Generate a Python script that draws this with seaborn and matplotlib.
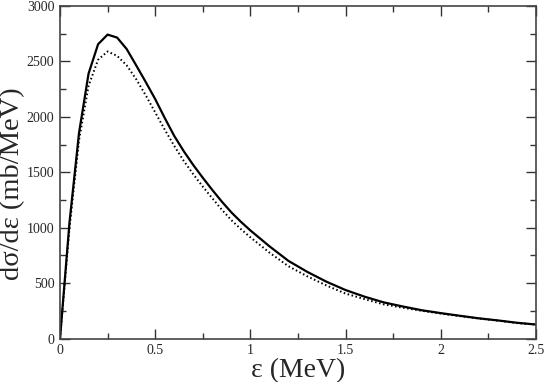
import numpy as np
import pandas as pd
import matplotlib
matplotlib.use("Agg")
import matplotlib.pyplot as plt
from matplotlib.ticker import MultipleLocator
import seaborn as sns

# energy grid (MeV) and the two cross sections (mb/MeV)
energy = [0.0, 0.05, 0.1, 0.15, 0.2, 0.25, 0.3, 0.35, 0.4, 0.45, 0.5,
          0.55, 0.6, 0.65, 0.7, 0.75, 0.8, 0.85, 0.9, 0.95, 1.0,
          1.1, 1.2, 1.3, 1.4, 1.5, 1.6, 1.7, 1.8, 1.9, 2.0,
          2.1, 2.2, 2.3, 2.4, 2.5]
solid_vals = [0, 1050, 1856, 2390, 2655, 2742, 2715, 2612, 2465, 2315, 2160,
              1990, 1828, 1690, 1565, 1450, 1340, 1235, 1138, 1053, 975,
              832, 700, 600, 512, 437, 377, 326, 289, 255, 229,
              205, 182, 163, 142, 126]
dotted_vals = [0, 1000, 1790, 2280, 2515, 2590, 2550, 2465, 2340, 2195, 2040,
               1885, 1738, 1602, 1482, 1370, 1265, 1162, 1068, 987, 913,
               775, 652, 560, 478, 405, 355, 308, 278, 250, 225,
               202, 180, 161, 139, 126]

xticks = [0, 0.5, 1, 1.5, 2, 2.5]
xticklabels = ["0", "0.5", "1", "1.5", "2", "2.5"]
yticks = [0, 500, 1000, 1500, 2000, 2500, 3000]

df = pd.DataFrame({
    "e": energy * 2,
    "xs": solid_vals + dotted_vals,
    "curve": ["solid"] * len(energy) + ["dotted"] * len(energy),
})

sns.set_style("ticks")
plt.rcParams["font.family"] = ["Liberation Serif", "DejaVu Serif"]

fig = plt.figure(figsize=(5.45, 3.82), dpi=100)
ax = fig.add_axes([60 / 545, 1 - 338.5 / 382, 476 / 545, 332.5 / 382])

sns.lineplot(data=df[df.curve == "solid"], x="e", y="xs", ax=ax,
             color="black", lw=1.6, estimator=None, sort=False)
sns.lineplot(data=df[df.curve == "dotted"], x="e", y="xs", ax=ax,
             color="black", lw=1.4, estimator=None, sort=False,
             linestyle=(0, (0.8, 1.3)))

ax.set_xlim(0, 2.5)
ax.set_ylim(0, 3000)
ax.set_xticks(xticks)
ax.set_xticklabels(xticklabels)
ax.set_yticks(yticks)
ax.xaxis.set_minor_locator(MultipleLocator(0.25))
ax.yaxis.set_minor_locator(MultipleLocator(250))
ax.tick_params(which="both", direction="in", top=True, right=True,
               labelsize=10, width=1, color="#333333", pad=4)
ax.tick_params(which="major", length=7)
ax.tick_params(which="minor", length=4)
for s in ax.spines.values():
    s.set_linewidth(1.2)
    s.set_color("#444444")

ax.set_xlabel("ε (MeV)", fontsize=20, labelpad=1)
ax.set_ylabel("dσ/dε (mb/MeV)", fontsize=20.5)
ax.yaxis.set_label_coords(-0.074, 0.465)

fig.savefig("out.png", dpi=100)
